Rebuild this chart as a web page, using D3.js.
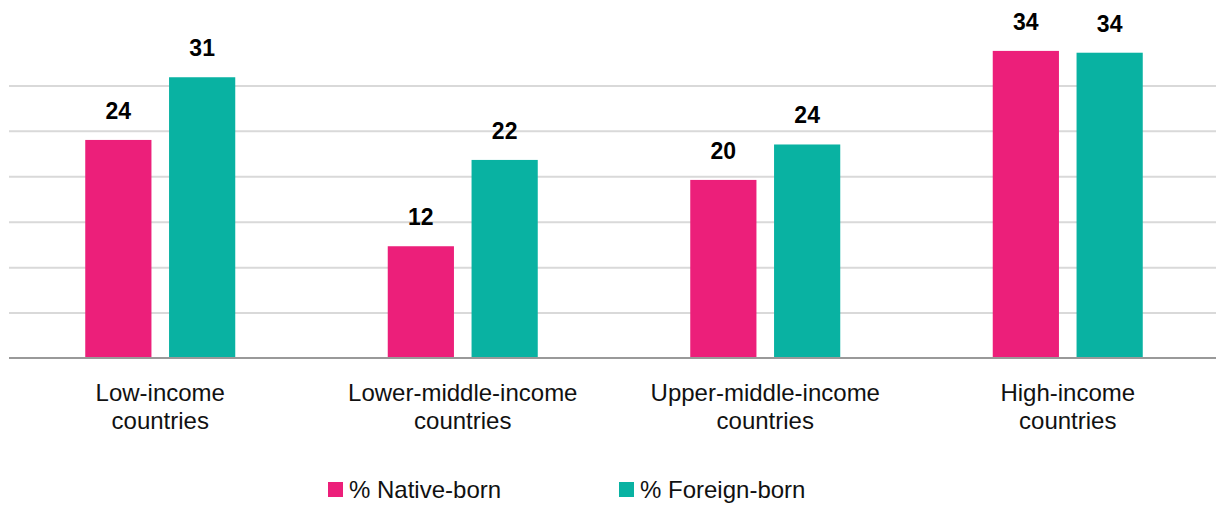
<!DOCTYPE html>
<html>
<head>
<meta charset="utf-8">
<script src="https://cdn.jsdelivr.net/npm/d3@7"></script>
<style>
  body { margin: 0; background: #fff; }
  svg text { font-family: "Liberation Sans", Arial, sans-serif; }
</style>
</head>
<body>
<div id="chart"></div>
<script>
// data
const categories = ["Low-income countries", "Lower-middle-income countries", "Upper-middle-income countries", "High-income countries"];
const categoryLines = [["Low-income", "countries"], ["Lower-middle-income", "countries"], ["Upper-middle-income", "countries"], ["High-income", "countries"]];
const seriesNames = ["% Native-born", "% Foreign-born"];
const nativeBorn = [24.0, 12.3, 19.6, 33.8];
const foreignBorn = [30.9, 21.8, 23.5, 33.6];
const gridTicks = [5, 10, 15, 20, 25, 30];
const colors = ["#ec1f7a", "#09b2a2"];

const W = 1216, H = 506;
const baseY = 358;

const svg = d3.select("#chart").append("svg")
    .attr("width", W)
    .attr("height", H);

// scales
const x = d3.scaleBand()
    .domain(categories)
    .range([9, 1219]);

const x1 = d3.scaleBand()
    .domain(seriesNames)
    .range([0, 150])
    .paddingInner(0.21);

const y = d3.scaleLinear()
    .domain([0, 35])
    .range([baseY, 40]);

// gridlines
const grid = svg.append("g")
    .attr("transform", "translate(9,0)")
    .call(d3.axisLeft(y).tickValues(gridTicks).tickSize(-(W - 9)).tickFormat(""));
grid.select(".domain").remove();
grid.selectAll(".tick line").attr("stroke", "#d9d9d9").attr("stroke-width", 2);

// baseline
svg.append("line")
    .attr("x1", 9).attr("x2", W)
    .attr("y1", y(0)).attr("y2", y(0))
    .attr("stroke", "#999").attr("stroke-width", 2);

const rows = categories.map(function(c, i) {
  return {cat: c, values: [nativeBorn[i], foreignBorn[i]]};
});

const groups = svg.selectAll("g.group")
    .data(rows)
    .enter().append("g")
    .attr("class", "group")
    .attr("transform", function(d) {
      return "translate(" + (x(d.cat) + x.bandwidth() / 2 - 75) + ",0)";
    });

const bars = groups.selectAll("g.bar")
    .data(function(d) { return d.values.map(function(v, j) { return {name: seriesNames[j], v: v, j: j}; }); })
    .enter().append("g")
    .attr("class", "bar");

bars.append("rect")
    .attr("x", function(d) { return x1(d.name); })
    .attr("y", function(d) { return y(d.v); })
    .attr("width", x1.bandwidth())
    .attr("height", function(d) { return y(0) - y(d.v) - 1; })
    .attr("fill", function(d) { return colors[d.j]; });

// value labels
bars.append("text")
    .attr("x", function(d) { return x1(d.name) + x1.bandwidth() / 2; })
    .attr("y", function(d) { return y(d.v) - 21; })
    .attr("text-anchor", "middle")
    .style("font-size", "23px")
    .style("font-weight", "bold")
    .attr("fill", "#000")
    .text(function(d) { return Math.round(d.v); });

// category labels, one text per line
const catLabels = svg.selectAll("g.cat")
    .data(categories)
    .enter().append("g")
    .attr("class", "cat")
    .attr("transform", function(d) { return "translate(" + (x(d) + x.bandwidth() / 2) + ",0)"; });

catLabels.selectAll("text")
    .data(function(d, i) { return categoryLines[i]; })
    .enter().append("text")
    .attr("text-anchor", "middle")
    .attr("y", function(d, i) { return 401 + i * 28; })
    .style("font-size", "24px")
    .attr("fill", "#111")
    .text(function(d) { return d; });

// legend
const legendX = [328, 619];
const legend = svg.selectAll("g.legend")
    .data(seriesNames)
    .enter().append("g")
    .attr("class", "legend")
    .attr("transform", function(d, i) { return "translate(" + legendX[i] + ",482)"; });

legend.append("rect")
    .attr("width", 15).attr("height", 15)
    .attr("fill", function(d, i) { return colors[i]; });

legend.append("text")
    .attr("x", 21)
    .attr("y", 16)
    .style("font-size", "24px")
    .attr("fill", "#111")
    .text(function(d) { return d; });
</script>
</body>
</html>
